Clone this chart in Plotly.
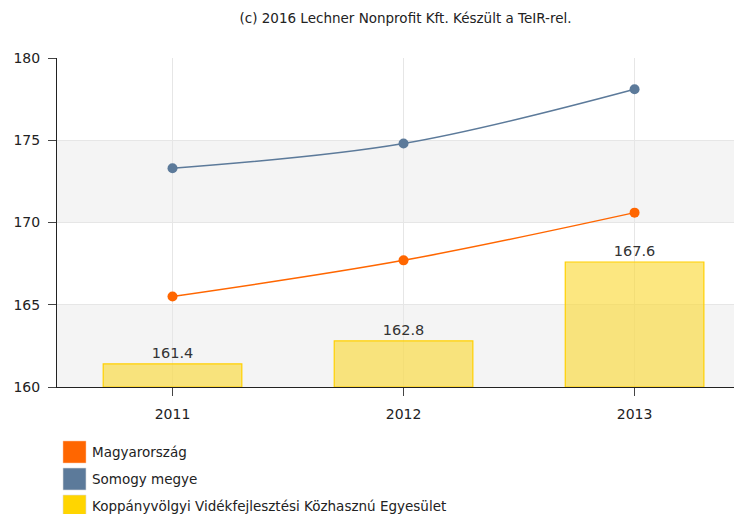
import plotly.graph_objects as go

years = ["2011", "2012", "2013"]
magyarorszag = [165.5, 167.7, 170.6]
somogy = [173.3, 174.8, 178.1]
koppany = [161.4, 162.8, 167.6]
bar_labels = ["161.4", "162.8", "167.6"]
y_ticks = [160, 165, 170, 175, 180]
legend_names = ["Magyarország", "Somogy megye",
                "Koppányvölgyi Vidékfejlesztési Közhasznú Egyesület"]

ORANGE = "#ff6600"
BLUE = "#5c7a9a"
YELLOW = "#ffd500"
legend_colors = [ORANGE, BLUE, YELLOW]

# figure geometry (page body adds 8px offset)
W, H = 734, 506
ML, MT, MB, MR = 49, 50, 127, 0
PW, PH = W - ML - MR, H - MT - MB

def px(x):
    return (x - ML) / PW

def py(y):
    return (H - MB - y) / PH

fig = go.Figure()

fig.add_trace(go.Bar(
    x=years, y=[v - 160 for v in koppany], base=160, width=0.6,
    marker=dict(color="rgba(250,218,60,0.65)", line=dict(color="#ffd000", width=1.2)),
    text=bar_labels, textposition="outside", cliponaxis=False,
    textfont=dict(family="DejaVu Sans", size=14.5, color="#333333"),
    showlegend=False, hoverinfo="skip",
))
fig.add_trace(go.Scatter(
    x=years, y=somogy, mode="lines+markers",
    line=dict(color=BLUE, width=1.5, shape="spline"),
    marker=dict(color=BLUE, size=10), showlegend=False,
))
fig.add_trace(go.Scatter(
    x=years, y=magyarorszag, mode="lines+markers",
    line=dict(color=ORANGE, width=1.5, shape="spline"),
    marker=dict(color=ORANGE, size=10), showlegend=False,
))

shapes = []
for lo, hi in [(160, 165), (170, 175)]:
    shapes.append(dict(type="rect", xref="paper", yref="y", x0=0, x1=1, y0=lo, y1=hi,
                       fillcolor="#f4f4f4", line=dict(width=0), layer="below"))

annotations = []
for i, (name, col) in enumerate(zip(legend_names, legend_colors)):
    top = 433 + i * 27
    shapes.append(dict(type="rect", xref="paper", yref="paper",
                       x0=px(55), x1=px(78), y0=py(top), y1=py(top + 22),
                       fillcolor=col, line=dict(color="rgba(255,200,170,0.5)" if i == 0 else "rgba(220,220,220,0.6)", width=1)))
    annotations.append(dict(xref="paper", yref="paper", x=px(82), y=py(top + 11),
                            xanchor="left", yanchor="middle", showarrow=False, text=name,
                            font=dict(family="DejaVu Sans", size=13.5, color="#222222")))

fig.update_layout(
    width=W, height=H,
    margin=dict(l=ML, r=MR, t=MT, b=MB),
    paper_bgcolor="white", plot_bgcolor="white",
    shapes=shapes, annotations=annotations,
    showlegend=False,
    title=dict(text="(c) 2016 Lechner Nonprofit Kft. Készült a TeIR-rel.",
               x=px(420), xanchor="center", y=1 - 10 / H, yanchor="middle",
               font=dict(family="DejaVu Sans", size=13.5, color="#222222")),
    xaxis=dict(
        type="category", range=[-0.5, 2.465],
        showgrid=True, gridcolor="#e6e6e6", gridwidth=1,
        showline=True, linecolor="#222222", linewidth=1,
        ticks="outside", ticklen=8, tickcolor="#444444",
        ticklabelstandoff=6,
        tickfont=dict(family="DejaVu Sans", size=14, color="#222222"),
        zeroline=False, fixedrange=True,
    ),
    yaxis=dict(
        range=[160, 180], tickvals=y_ticks,
        showgrid=True, gridcolor="#e6e6e6", gridwidth=1,
        showline=True, linecolor="#222222", linewidth=1,
        ticks="outside", ticklen=8, tickcolor="#444444",
        ticklabelstandoff=5,
        tickfont=dict(family="DejaVu Sans", size=14, color="#222222"),
        zeroline=False, fixedrange=True,
    ),
    bargap=0.4,
)

fig.write_html("out.html")
